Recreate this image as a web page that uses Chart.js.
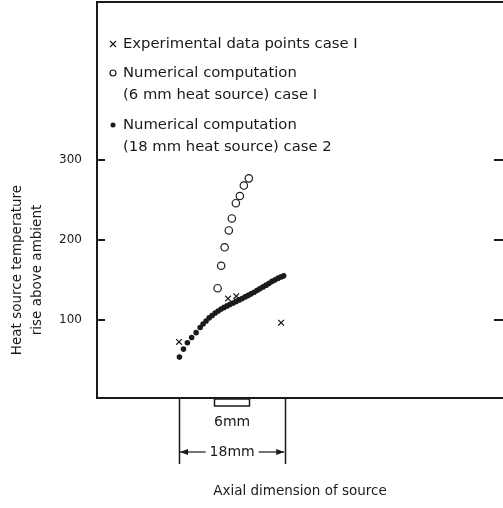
<!DOCTYPE html>
<html>
<head>
<meta charset="utf-8">
<script src="https://cdn.jsdelivr.net/npm/chart.js@4"></script>
<style>
  html, body { margin: 0; padding: 0; background: #fff; overflow: hidden; }
  #wrap { width: 503px; height: 508px; }
</style>
</head>
<body>
<div id="wrap"><canvas id="chart"></canvas></div>
<script>
// axial position (mm, 0 = centre of source) / temperature rise
var expX = [-9.0, -0.7, 0.7, 8.3];
var expY = [73, 127, 130, 97];

var num6X = [-2.46, -1.86, -1.27, -0.56, -0.05, 0.63, 1.31, 1.98, 2.83];
var num6Y = [140, 168, 191, 212, 227, 246, 255, 268, 277];

var num18X = [-8.93, -8.25, -7.58, -6.86, -6.10, -5.42, -4.92, -4.41, -3.90, -3.39, -2.88, -2.37,
              -1.86, -1.36, -0.85, -0.34, 0.17, 0.68, 1.19, 1.69, 2.20, 2.71, 3.22, 3.73,
              4.24, 4.75, 5.25, 5.76, 6.27, 6.78, 7.29, 7.80, 8.31, 8.73];
var num18Y = [54, 64, 72, 78.5, 84.5, 91, 95.4, 99.1, 102.9, 106, 109.1, 111.6,
              114.1, 116, 117.9, 119.8, 121.6, 123.5, 125.4, 127, 129.1, 131, 132.9, 135,
              137.3, 139.5, 141.6, 143.8, 146, 148.5, 150.4, 152.5, 154.1, 155.4];

var yTicks = [100, 200, 300];
var legendLines = [
    ['x', 'Experimental data points case I'],
    ['o', 'Numerical computation'],
    ['', '(6 mm heat source) case I'],
    ['.', 'Numerical computation'],
    ['', '(18 mm heat source) case 2']
];
var yTitle = ['Heat source temperature', 'rise above ambient'];
var xTitle = 'Axial dimension of source';

var INK = '#1a1a1a';
var FONT = '"DejaVu Sans", sans-serif';

function pts(xs, ys) {
    return xs.map(function (x, i) { return { x: x, y: ys[i] }; });
}

function arrow(ctx, x1, x2, y) {
    // line from x1 to x2 with head at x2
    var d = x2 > x1 ? 1 : -1;
    ctx.beginPath();
    ctx.moveTo(x1, y);
    ctx.lineTo(x2, y);
    ctx.stroke();
    ctx.beginPath();
    ctx.moveTo(x2, y);
    ctx.lineTo(x2 - d * 8, y - 3);
    ctx.lineTo(x2 - d * 8, y + 3);
    ctx.closePath();
    ctx.fill();
}

var annot = {
    id: 'annot',
    afterDraw: function (chart) {
        var ctx = chart.ctx, a = chart.chartArea;
        var xs = chart.scales.x, ys = chart.scales.y;
        ctx.save();
        ctx.strokeStyle = INK;
        ctx.fillStyle = INK;

        // top edge of the frame
        ctx.lineWidth = 2;
        ctx.beginPath();
        ctx.moveTo(a.left - 1, a.top);
        ctx.lineTo(a.right, a.top);
        ctx.stroke();

        // inward tick marks on both sides
        yTicks.forEach(function (v) {
            var py = Math.round(ys.getPixelForValue(v));
            ctx.beginPath();
            ctx.moveTo(a.left, py); ctx.lineTo(a.left + 8, py);
            ctx.moveTo(a.right - 9, py); ctx.lineTo(a.right, py);
            ctx.stroke();
        });

        // legend inside the frame
        ctx.font = '14.8px ' + FONT;
        ctx.textBaseline = 'middle';
        ctx.textAlign = 'left';
        var ly = [44, 73, 95, 125, 147];
        legendLines.forEach(function (l, i) {
            var sx = 113, y = ly[i];
            ctx.lineWidth = 1.2;
            if (l[0] === 'x') {
                ctx.beginPath();
                ctx.moveTo(sx - 3, y - 3); ctx.lineTo(sx + 3, y + 3);
                ctx.moveTo(sx + 3, y - 3); ctx.lineTo(sx - 3, y + 3);
                ctx.stroke();
            } else if (l[0] === 'o') {
                ctx.beginPath(); ctx.arc(sx, y, 3, 0, Math.PI * 2); ctx.stroke();
            } else if (l[0] === '.') {
                ctx.beginPath(); ctx.arc(sx, y, 2.5, 0, Math.PI * 2); ctx.fill();
            }
            ctx.fillText(l[1], 123, y);
        });

        // y title, two rotated lines
        ctx.save();
        ctx.font = '13.5px ' + FONT;
        ctx.textAlign = 'center';
        ctx.translate(17, 270);
        ctx.rotate(-Math.PI / 2);
        ctx.fillText(yTitle[0], 0, 0);
        ctx.fillText(yTitle[1], 0, 20);
        ctx.restore();

        // source size marks under the axis
        var cx = xs.getPixelForValue(0);
        var l6 = xs.getPixelForValue(-3), r6 = xs.getPixelForValue(3);
        var l18 = xs.getPixelForValue(-9), r18 = xs.getPixelForValue(9);
        ctx.lineWidth = 1.5;
        ctx.strokeRect(Math.round(l6) + 0.5, a.bottom + 1, Math.round(r6 - l6), 7);
        ctx.beginPath();
        ctx.moveTo(Math.round(l18) + 0.5, a.bottom); ctx.lineTo(Math.round(l18) + 0.5, a.bottom + 66);
        ctx.moveTo(Math.round(r18) + 0.5, a.bottom); ctx.lineTo(Math.round(r18) + 0.5, a.bottom + 66);
        ctx.stroke();

        ctx.font = '14px ' + FONT;
        ctx.textAlign = 'center';
        ctx.fillText('6mm', cx, a.bottom + 24);
        var ay = a.bottom + 54;
        var tw = ctx.measureText('18mm').width;
        ctx.fillText('18mm', cx, ay);
        ctx.lineWidth = 1.2;
        arrow(ctx, cx - tw / 2 - 4, l18 + 1, ay);
        arrow(ctx, cx + tw / 2 + 4, r18 - 1, ay);
        ctx.restore();
    }
};

new Chart(document.getElementById('chart'), {
    type: 'scatter',
    data: {
        datasets: [
            {
                label: 'Experimental data points case I',
                data: pts(expX, expY),
                pointStyle: 'crossRot',
                pointRadius: 4,
                borderWidth: 1.2,
                borderColor: INK
            },
            {
                label: 'Numerical computation (6 mm heat source) case I',
                data: pts(num6X, num6Y),
                pointStyle: 'circle',
                pointRadius: 3.7,
                borderWidth: 1.2,
                borderColor: INK,
                backgroundColor: '#fff'
            },
            {
                label: 'Numerical computation (18 mm heat source) case 2',
                data: pts(num18X, num18Y),
                pointStyle: 'circle',
                pointRadius: 2.8,
                borderWidth: 0,
                borderColor: INK,
                backgroundColor: INK
            }
        ]
    },
    options: {
        responsive: true,
        maintainAspectRatio: false,
        animation: false,
        layout: { autoPadding: false, padding: { top: 2, right: 0, bottom: 0, left: 0 } },
        plugins: {
            legend: { display: false },
            tooltip: { enabled: false }
        },
        scales: {
            x: {
                type: 'linear',
                min: -22.9,
                max: 45.9,
                grid: { display: false, drawTicks: false },
                border: { display: true, color: INK, width: 2 },
                ticks: { display: false },
                title: {
                    display: true,
                    text: xTitle,
                    color: INK,
                    font: { family: FONT, size: 13.5 },
                    padding: { top: 0, bottom: 8 }
                },
                afterFit: function (s) { s.height = 110; s.paddingLeft = 0; s.paddingRight = 0; }
            },
            y: {
                type: 'linear',
                min: 3,
                max: 497,
                grid: { display: false, drawTicks: false },
                border: { display: true, color: INK, width: 2 },
                afterBuildTicks: function (s) {
                    s.ticks = yTicks.map(function (v) { return { value: v }; });
                },
                ticks: {
                    color: INK,
                    padding: 15,
                    font: { family: FONT, size: 12 }
                },
                afterFit: function (s) { s.width = 97; s.paddingTop = 0; s.paddingBottom = 0; }
            }
        }
    },
    plugins: [annot]
});
</script>
</body>
</html>
